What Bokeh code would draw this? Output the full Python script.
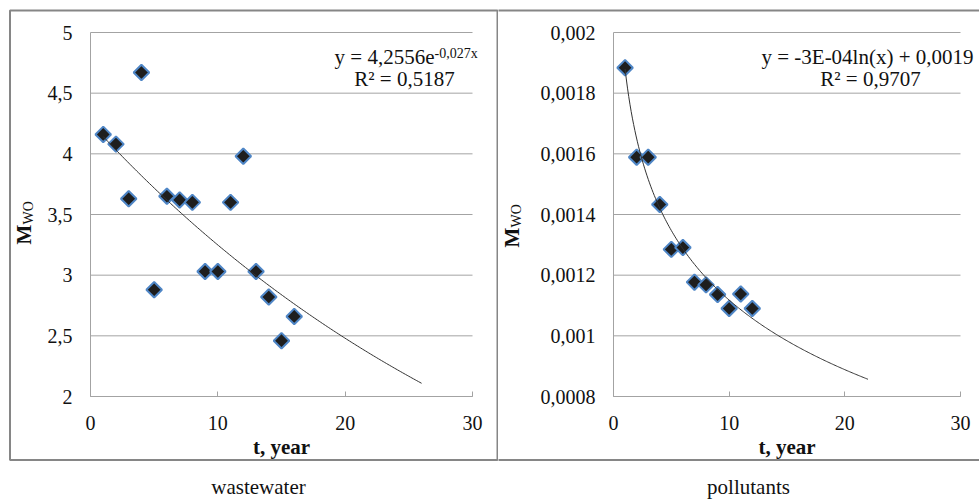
import numpy as np
from bokeh.plotting import figure
from bokeh.layouts import row
from bokeh.models import Range1d, FixedTicker, CustomJSTickFormatter, Label, BoxAnnotation
from bokeh.embed import file_html
from bokeh.resources import INLINE

# ---------------- data ----------------
waste_t = [1, 2, 3, 4, 5, 6, 7, 8, 9, 10, 11, 12, 13, 14, 15, 16]
waste_m = [4.16, 4.08, 3.63, 4.67, 2.88, 3.65, 3.62, 3.60, 3.03, 3.03, 3.60, 3.98, 3.03, 2.82, 2.46, 2.66]

poll_t = [1, 2, 3, 4, 5, 6, 7, 8, 9, 10, 11, 12]
poll_m = [0.001884, 0.001589, 0.001589, 0.001433, 0.001285, 0.001291,
          0.001177, 0.001168, 0.001136, 0.00109, 0.001138, 0.00109]

x_ticks = [0, 10, 20, 30]
waste_y_ticks = [2, 2.5, 3, 3.5, 4, 4.5, 5]
poll_y_ticks = [0.0008, 0.001, 0.0012, 0.0014, 0.0016, 0.0018, 0.002]

# trend lines (Excel): wastewater y = a*exp(k*t); pollutants y = a*ln(t) + b
waste_fit_a, waste_fit_k = 4.2556, -0.027
waste_fit_span = (1, 26)
poll_fit_a, poll_fit_b = -0.000331, 0.00188
poll_fit_span = (1, 22)

waste_eq = "y = 4,2556e"
waste_eq_sup = "-0,027x"
waste_r2 = "R\u00b2 = 0,5187"
poll_eq = "y = -3E-04ln(x) + 0,0019"
poll_r2 = "R\u00b2 = 0,9707"
captions = ["wastewater", "pollutants"]
x_title = "t, year"
y_title_main, y_title_sub = "M", "WO"

# ---------------- layout / style ----------------
FONT = "Liberation Serif, Times New Roman, DejaVu Serif, serif"
W1, W2, H = 498, 481, 499
GRID = "#a3a3a3"
BORDER = "#868686"
TXT = "#111111"

fmt = CustomJSTickFormatter(code="return tick.toString().replace('.', ',');")


def mapper(v0, v1, p0, p1):
    k = (v1 - v0) / (p1 - p0)
    return lambda px: v0 + (px - p0) * k


def make_fig(width, fx, fy, x_bounds, y_bounds, y_ticks):
    p = figure(width=width, height=H,
               x_range=Range1d(fx(0), fx(width)), y_range=Range1d(fy(H), fy(0)),
               output_backend="svg", toolbar_location=None,
               min_border_left=0, min_border_right=0, min_border_top=0, min_border_bottom=0,
               background_fill_color="white", border_fill_color="white",
               outline_line_color=None)
    p.grid.visible = False

    xa = p.xaxis[0]
    xa.fixed_location = y_bounds[0]
    xa.bounds = x_bounds
    xa.ticker = FixedTicker(ticks=x_ticks)
    xa.formatter = fmt
    xa.major_tick_in = 5
    xa.major_tick_out = 0
    xa.minor_tick_line_color = None
    xa.axis_line_color = GRID
    xa.major_tick_line_color = GRID
    xa.major_label_text_font = FONT
    xa.major_label_text_font_size = "20px"
    xa.major_label_text_color = TXT
    xa.major_label_standoff = 19
    xa.axis_label = x_title
    xa.axis_label_text_font = FONT
    xa.axis_label_text_font_size = "21px"
    xa.axis_label_text_font_style = "bold"
    xa.axis_label_text_color = TXT
    xa.axis_label_standoff = 2

    ya = p.yaxis[0]
    ya.fixed_location = x_bounds[0]
    ya.bounds = y_bounds
    ya.ticker = FixedTicker(ticks=y_ticks)
    ya.formatter = fmt
    ya.major_tick_in = 0
    ya.major_tick_out = 0
    ya.minor_tick_line_color = None
    ya.axis_line_color = GRID
    ya.major_label_text_font = FONT
    ya.major_label_text_font_size = "20px"
    ya.major_label_text_color = TXT
    ya.major_label_standoff = 18

    # horizontal grid lines, only across the plot area
    n = len(y_ticks)
    p.segment(x0=[x_bounds[0]] * n, x1=[x_bounds[1]] * n, y0=y_ticks, y1=y_ticks,
              line_color=GRID, line_width=1)
    return p


def add_points(p, xs, ys, tx, ty):
    p.scatter(xs, ys, marker="square", angle=np.pi / 4, size=11,
              fill_color="#1e1e1e", line_color="#4f86c6", line_width=2)
    p.line(tx, ty, line_color="#333333", line_width=1)


def lab(p, x, y, text, size="21px", align="left", style="normal", angle=0.0):
    p.add_layout(Label(x=x, y=y, text=text,
                       text_font=FONT, text_font_size=size, text_align=align,
                       text_baseline="middle", text_font_style=style,
                       text_color=TXT, angle=angle))


# ---------------- left panel: wastewater ----------------
fx1 = mapper(0, 30, 90, 472)
fy1 = mapper(2, 5, 396, 32)
p1 = make_fig(W1, fx1, fy1, (0, 30), (2, 5), waste_y_ticks)
t1 = np.linspace(waste_fit_span[0], waste_fit_span[1], 200)
add_points(p1, waste_t, waste_m, t1, waste_fit_a * np.exp(waste_fit_k * t1))
p1.add_layout(BoxAnnotation(left=fx1(9.5), right=fx1(497), top=fy1(10), bottom=fy1(459.5),
                            fill_alpha=0, line_color=BORDER, line_width=2, line_alpha=1))
lab(p1, fx1(434), fy1(56), waste_eq, align="right")
lab(p1, fx1(434), fy1(53), waste_eq_sup, size="14px")
lab(p1, fx1(404), fy1(78), waste_r2, align="center")
lab(p1, fx1(23), fy1(244), y_title_main, size="21px", style="bold", angle=np.pi / 2)
lab(p1, fx1(27.5), fy1(224), y_title_sub, size="14px", angle=np.pi / 2)
lab(p1, fx1(258), fy1(486), captions[0], size="21px", align="center")

# ---------------- right panel: pollutants ----------------
fx2 = mapper(0, 30, 613 - W1, 960 - W1)
fy2 = mapper(0.0008, 0.002, 396, 32)
p2 = make_fig(W2, fx2, fy2, (0, 30), (0.0008, 0.002), poll_y_ticks)
t2 = np.linspace(poll_fit_span[0], poll_fit_span[1], 200)
add_points(p2, poll_t, poll_m, t2, poll_fit_a * np.log(t2) + poll_fit_b)
p2.add_layout(BoxAnnotation(left=fx2(-3), right=fx2(600), top=fy2(10), bottom=fy2(459.5),
                            fill_alpha=0, line_color=BORDER, line_width=2, line_alpha=1))
lab(p2, fx2(867 - W1), fy2(56), poll_eq, align="center")
lab(p2, fx2(870 - W1), fy2(78), poll_r2, align="center")
lab(p2, fx2(511 - W1), fy2(247), y_title_main, size="21px", style="bold", angle=np.pi / 2)
lab(p2, fx2(515.5 - W1), fy2(227), y_title_sub, size="14px", angle=np.pi / 2)
lab(p2, fx2(748 - W1), fy2(486), captions[1], size="21px", align="center")

layout = row(p1, p2)
open("out.html", "w").write(file_html(layout, INLINE))
